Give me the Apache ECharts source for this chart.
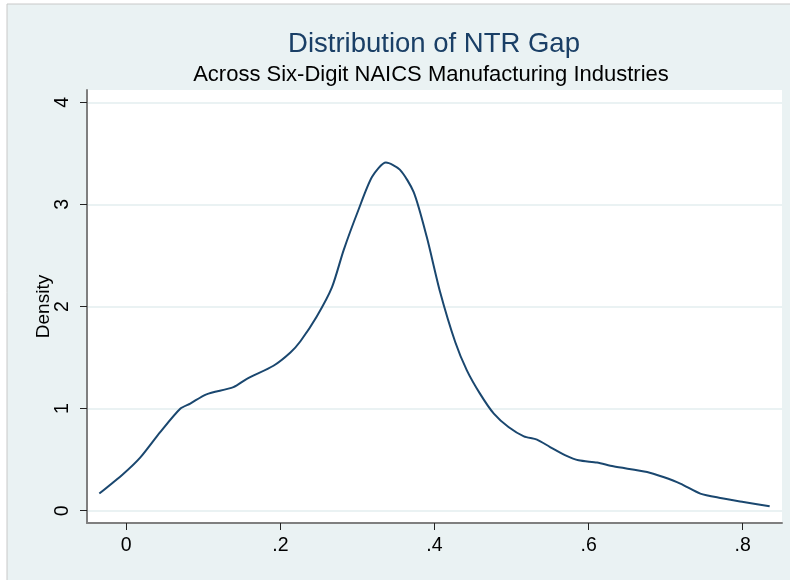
<!DOCTYPE html>
<html>
<head>
<meta charset="utf-8">
<script src="https://cdn.jsdelivr.net/npm/echarts@6/dist/echarts.min.js"></script>
<style>
  html, body { margin: 0; padding: 0; background: #fff; }
  #chart { width: 790px; height: 580px; }
</style>
</head>
<body>
<div id="chart"></div>
<script>
// kernel density of the NTR gap
const gapValues = [-0.035, -0.004, 0.018, 0.044, 0.070, 0.083, 0.104, 0.139, 0.156, 0.191,
  0.213, 0.226, 0.247, 0.267, 0.282, 0.301, 0.319, 0.337, 0.355, 0.373,
  0.390, 0.407, 0.427, 0.442, 0.459, 0.477, 0.496, 0.516, 0.533, 0.550,
  0.570, 0.587, 0.611, 0.632, 0.676, 0.697, 0.719, 0.745, 0.771, 0.801, 0.835]
const densityValues = [0.168, 0.36, 0.52, 0.77, 0.999, 1.05, 1.14, 1.21, 1.29, 1.42,
  1.55, 1.66, 1.90, 2.19, 2.55, 2.94, 3.27, 3.41, 3.34, 3.12,
  2.68, 2.15, 1.65, 1.375, 1.147, 0.951, 0.82, 0.729, 0.697, 0.624,
  0.543, 0.494, 0.472, 0.435, 0.38, 0.33, 0.266, 0.168, 0.125, 0.086, 0.044]
const xTicks = [0, 0.2, 0.4, 0.6, 0.8]
const yTicks = [0, 1, 2, 3, 4]

const chart = echarts.init(document.getElementById('chart'))

chart.setOption({
  backgroundColor: '#ffffff',
  animation: false,
  graphic: [{
    type: 'rect',
    z: -10,
    silent: true,
    shape: { x: 7, y: 4, width: 800, height: 600 },
    style: { fill: '#eaf2f3', stroke: '#c8c8c8', lineWidth: 1 }
  }],
  title: [
    {
      text: 'Distribution of NTR Gap',
      left: 429,
      top: 25,
      textAlign: 'center',
      textStyle: { color: '#1a3f66', fontSize: 27.5, fontWeight: 'normal', fontFamily: 'Liberation Sans' }
    },
    {
      text: 'Across Six-Digit NAICS Manufacturing Industries',
      left: 426,
      top: 59,
      textAlign: 'center',
      textStyle: { color: '#000000', fontSize: 22, fontWeight: 'normal', fontFamily: 'Liberation Sans' }
    }
  ],
  grid: {
    show: true,
    left: 87,
    right: 8,
    top: 90,
    bottom: 57,
    backgroundColor: '#ffffff',
    borderWidth: 0
  },
  xAxis: {
    type: 'value',
    min: -0.051,
    max: 0.851,
    axisLine: { show: true, onZero: false, lineStyle: { color: '#7f7f7f', width: 2 } },
    axisTick: { show: true, length: 7, customValues: xTicks, lineStyle: { color: '#222' } },
    axisLabel: {
      customValues: xTicks,
      margin: 13,
      color: '#000',
      fontSize: 19.5,
      fontFamily: 'Liberation Sans',
      formatter: v => v === 0 ? '0' : String(+v.toFixed(1)).replace(/^0/, '')
    },
    splitLine: { show: false }
  },
  yAxis: {
    type: 'value',
    min: -0.12,
    max: 4.12,
    name: 'Density',
    nameLocation: 'middle',
    nameGap: 34,
    nameMoveOverlap: false,
    nameTextStyle: { color: '#000', fontSize: 19, fontFamily: 'Liberation Sans' },
    axisLine: { show: true, onZero: false, lineStyle: { color: '#7f7f7f', width: 2 } },
    axisTick: { show: true, length: 7, customValues: yTicks, lineStyle: { color: '#222' } },
    axisLabel: {
      customValues: yTicks,
      rotate: 90,
      margin: 14,
      color: '#000',
      fontSize: 19.5,
      fontFamily: 'Liberation Sans'
    },
    splitLine: { show: true, lineStyle: { color: '#eaf2f3', width: 2 } }
  },
  series: [{
    type: 'line',
    data: gapValues.map((g, i) => [g, densityValues[i]]),
    showSymbol: false,
    smooth: 0.25,
    lineStyle: { color: '#1a476f', width: 2 }
  }]
})
</script>
</body>
</html>
